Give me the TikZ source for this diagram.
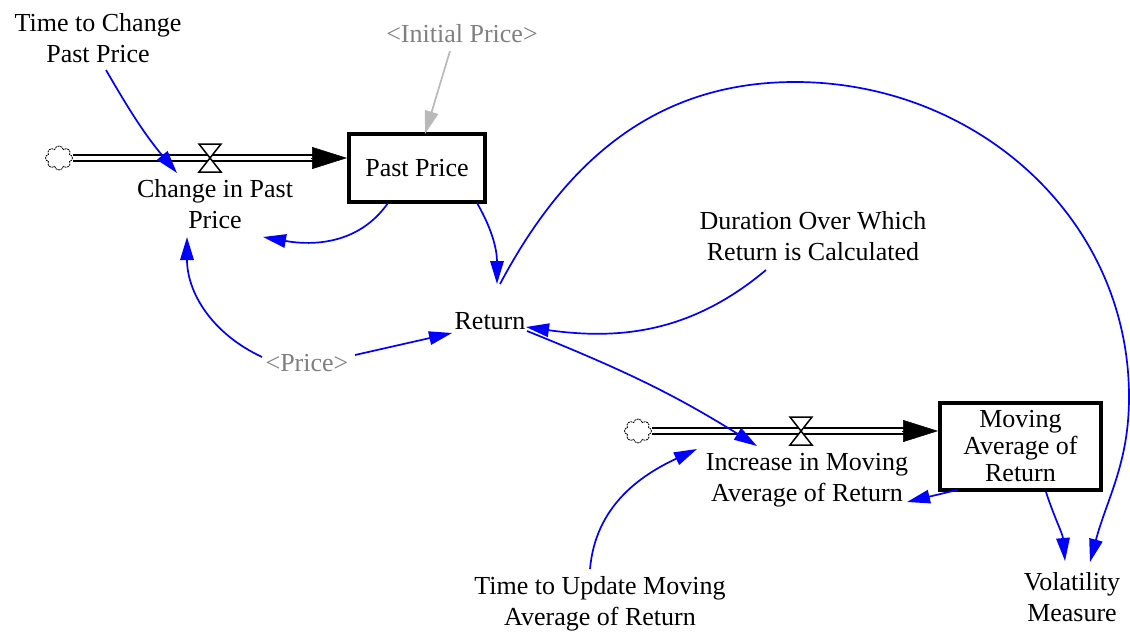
\documentclass[tikz,border=0pt]{standalone}
\usepackage{fontspec}
\setmainfont{Liberation Serif}
\usetikzlibrary{arrows.meta,shapes.symbols}

\definecolor{linkblue}{RGB}{0,0,255}
\definecolor{ghosttext}{RGB}{128,128,128}
\definecolor{ghostline}{RGB}{185,185,185}

\tikzset{
  varlabel/.style={align=center, inner sep=0pt, font=\fontsize{26}{31}\selectfont},
  ghostvar/.style={varlabel, text=ghosttext},
  stockbox/.style={draw=black, fill=white, line width=4pt, align=center, inner sep=0pt,
    font=\fontsize{26}{27}\selectfont},
  link/.style={draw=linkblue, line width=1.7pt, -{Triangle[length=23pt,width=13.5pt]}},
  ghostlink/.style={link, draw=ghostline},
  pipe/.style={draw=black, double=white, double distance=4.3pt, line width=2.2pt},
  pipehead/.style={-{Triangle[length=35pt,width=22pt]}, line width=0.5pt},
  valvestyle/.style={draw=black, fill=white, line width=1.5pt, line join=miter},
  source/.style={cloud, cloud puffs=8, cloud puff arc=160, aspect=1.1, draw=black, fill=white,
    line width=0.8pt, minimum width=27pt, minimum height=24pt, inner sep=0pt,
    dash pattern=on 2pt off 0.7pt},
}

\begin{document}
\begin{tikzpicture}[x=1pt, y=1pt]
\useasboundingbox (0,0) rectangle (1130,-632);

% stocks and flows
\node[stockbox, minimum width=136pt, minimum height=68pt] at (417,-168)
(past) {Past Price};
\node[stockbox, minimum width=161pt, minimum height=87pt] at (1020.5,-446.5)
(mavg) {Moving\\Average of\\Return};

\node[source] at (59,-158) (src1) {};
\node[source] at (638,-431) (src2) {};

\coordinate (v1) at (210,-158);
\coordinate (v2) at (801,-431);

\draw[pipe] (src1.east) -- ([xshift=-20pt]src1.east -| past.west);
\draw[pipehead] ([xshift=-36pt]src1.east -| past.west) -- (src1.east -| past.west);
\draw[pipe] (src2.east) -- ([xshift=-20pt]src2.east -| mavg.west);
\draw[pipehead] ([xshift=-36pt]src2.east -| mavg.west) -- (src2.east -| mavg.west);

\draw[valvestyle] (v1) ++(-11,14) -- ++(22,0) -- ++(-22,-28) -- ++(22,0) -- cycle;
\draw[valvestyle] (v2) ++(-11,14) -- ++(22,0) -- ++(-22,-28) -- ++(22,0) -- cycle;

% variables
\node[varlabel] at (98,-38) (tcpp) {Time to Change\\Past Price};
\node[varlabel] at (215,-204) (cipp) {Change in Past\\Price};
\node[ghostvar] at (462,-34) (initp) {\textless Initial Price\textgreater};
\node[varlabel] at (813,-236) (dur) {Duration Over Which\\Return is Calculated};
\node[varlabel] at (490,-321) (ret) {Return};
\node[ghostvar] at (307,-363) (price) {\textless Price\textgreater};
\node[varlabel] at (807,-480.5) (incr) {Increase in Moving\\Average of Return};
\node[varlabel] at (1072,-597) (vol) {Volatility\\Measure};
\node[varlabel] at (600,-604) (tupd) {Time to Update Moving\\Average of Return};

\coordinate (arctop) at (795,-82);
\coordinate (arcright) at (1129,-397);

% links
\draw[ghostlink] ([shift={(-12,-17)}]initp.center) -- ([shift={(8,34)}]past.center);
\draw[link]
  ([shift={(8,-32)}]tcpp.center) to[out=-60, in=130] ([shift={(-38,31)}]cipp.center);
\draw[link]
  ([shift={(-29,-35)}]past.center) to[out=-125, in=-10] ([shift={(48,-33)}]cipp.center);
\draw[link]
  ([shift={(60,-35)}]past.center) to[out=-60, in=90] ([shift={(7,37)}]ret.center);
\draw[link]
  ([shift={(-45,6)}]price.center) to[out=155, in=-90] ([shift={(-28,-33)}]cipp.center);
\draw[link]
  ([shift={(48,8)}]price.center) -- ([shift={(-38,-12)}]ret.center);
\draw[link]
  ([shift={(-47,-34)}]dur.center) to[out=-140, in=-8] ([shift={(36,-6)}]ret.center);
\draw[link]
  ([shift={(37,-10)}]ret.center) to[out=-22, in=148] ([shift={(-50,34.5)}]incr.center);
\draw[link]
  ([shift={(10,37)}]ret.center) to[out=62, in=180] (arctop)
  to[out=0, in=90] (arcright)
  to[out=-90, in=75] ([shift={(18,35)}]vol.center);
\draw[link]
  ([shift={(-63.5,-43.5)}]mavg.center) -- ([shift={(100,-21.5)}]incr.center);
\draw[link]
  ([shift={(25.5,-45.5)}]mavg.center) to[out=-72, in=95] ([shift={(-7,36)}]vol.center);
\draw[link]
  ([shift={(-10,35)}]tupd.center) to[out=85, in=-155] ([shift={(-110,31.5)}]incr.center);
\end{tikzpicture}
\end{document}
